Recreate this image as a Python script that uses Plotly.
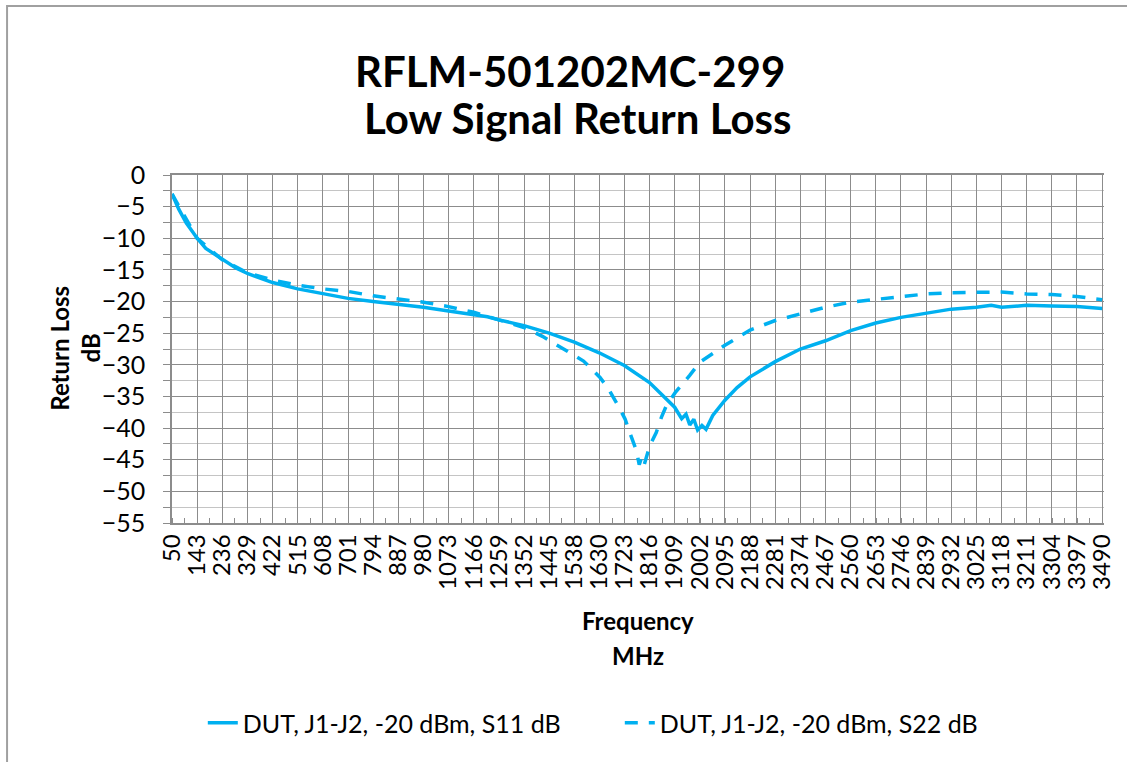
import plotly.graph_objects as go

# ---- data ----
x_labels = [50, 143, 236, 329, 422, 515, 608, 701, 794, 887, 980, 1073, 1166, 1259,
            1352, 1445, 1538, 1630, 1723, 1816, 1909, 2002, 2095, 2188, 2281, 2374,
            2467, 2560, 2653, 2746, 2839, 2932, 3025, 3118, 3211, 3304, 3397, 3490]

freq_s11 = [50, 75, 103, 143, 175, 200, 240, 286, 331, 422, 515, 608, 701, 794, 887,
            980, 1073, 1166, 1217, 1259, 1352, 1445, 1538, 1630, 1723, 1816, 1870,
            1909, 1935, 1951, 1965, 1980, 1994, 2010, 2025, 2050, 2095, 2140, 2188,
            2281, 2374, 2467, 2560, 2653, 2746, 2839, 2932, 3025, 3080, 3118, 3211,
            3304, 3397, 3490]
s11_db = [-3.0, -5.4, -7.6, -10.0, -11.6, -12.3, -13.5, -14.7, -15.6, -17.0, -18.0,
          -18.8, -19.5, -20.0, -20.4, -20.9, -21.5, -22.0, -22.4, -22.9, -23.8, -25.0,
          -26.4, -28.1, -30.1, -32.8, -35.0, -36.7, -38.5, -37.8, -39.5, -38.6, -40.3,
          -39.6, -40.2, -38.0, -35.6, -33.6, -31.9, -29.5, -27.5, -26.2, -24.6, -23.4,
          -22.5, -21.8, -21.2, -20.9, -20.6, -20.9, -20.6, -20.7, -20.8, -21.1]

freq_s22 = [50, 143, 236, 331, 422, 515, 608, 701, 794, 887, 980, 1073, 1166, 1259,
            1352, 1420, 1480, 1539, 1572, 1633, 1664, 1707, 1726, 1743, 1768, 1778,
            1786, 1795, 1805, 1817, 1841, 1860, 1878, 1911, 1964, 2002, 2095, 2188,
            2281, 2374, 2467, 2560, 2653, 2746, 2839, 2932, 3025, 3118, 3211, 3304,
            3397, 3490]
s22_db = [-3.0, -10.0, -13.4, -15.5, -16.6, -17.4, -18.0, -18.4, -19.1, -19.6, -20.1,
          -20.8, -21.7, -22.9, -24.1, -25.5, -27.0, -28.6, -29.4, -32.0, -33.8, -37.0,
          -38.6, -40.7, -43.6, -45.8, -44.8, -46.0, -44.6, -42.8, -40.7, -38.3, -36.5,
          -34.4, -31.7, -29.6, -26.9, -24.5, -23.0, -21.9, -20.9, -20.1, -19.7, -19.2,
          -18.8, -18.6, -18.5, -18.5, -18.8, -18.9, -19.2, -19.7]

series_names = ["DUT, J1-J2, -20 dBm, S11 dB", "DUT, J1-J2, -20 dBm, S22 dB"]
title_lines = ["RFLM-501202MC-299", "Low Signal Return Loss"]

# ---- layout geometry (pixels) ----
W, H = 1127, 762
L, R, T, B = 172, 17, 175, 239
PW, PH = W - L - R, H - T - B

def px(x):
    return (x - L) / PW

def py(y):
    return (H - B - y) / PH

FONT = "Lato"
BLUE = "#00B0F0"
GRID = "#8C8C8C"
MINOR = "#C4C4C4"

fig = go.Figure()
fig.add_trace(go.Scatter(x=freq_s11, y=s11_db, mode="lines", name=series_names[0],
                         line=dict(color=BLUE, width=3.5)))
fig.add_trace(go.Scatter(x=freq_s22, y=s22_db, mode="lines", name=series_names[1],
                         line=dict(color=BLUE, width=3.5, dash="13px,11px")))

fig.update_layout(
    width=W, height=H,
    margin=dict(l=L, r=R, t=T, b=B, pad=0),
    paper_bgcolor="white", plot_bgcolor="white",
    font=dict(family=FONT, color="black"),
    showlegend=True,
    legend=dict(orientation="h", x=px(203), xanchor="left", y=py(723), yanchor="middle",
                font=dict(size=25, family=FONT), entrywidth=372, entrywidthmode="pixels",
                bgcolor="rgba(0,0,0,0)"),
    xaxis=dict(range=[50, 3497], tickmode="array", tickvals=x_labels,
               ticktext=[str(v) for v in x_labels], tickangle=-90,
               tickfont=dict(size=24, family=FONT), showgrid=True, gridcolor=GRID,
               gridwidth=1, zeroline=False, showline=True, linecolor=GRID, linewidth=1.5,
               mirror=True, ticks="",
               minor=dict(tick0=50, dtick=46.5, ticks="inside", ticklen=5,
                          tickcolor=GRID, showgrid=False)),
    yaxis=dict(range=[-55, 0], dtick=5, tick0=0, tickfont=dict(size=25, family=FONT),
               showgrid=True, gridcolor=GRID, gridwidth=1, zeroline=False,
               showline=True, linecolor=GRID, linewidth=1.5, ticks="outside",
               ticklen=7, tickcolor=GRID, ticklabelstandoff=13,
               minor=dict(dtick=2.5, showgrid=True, gridcolor=MINOR, ticks="outside",
                          ticklen=7, tickcolor=GRID)),
)

ann = [
    dict(text="<b>%s</b>" % title_lines[0], x=px(573), y=py(71), size=42),
    dict(text="<b>%s</b>" % title_lines[1], x=px(580), y=py(118), size=42),
    dict(text="<b>Frequency</b>", x=px(641), y=py(620), size=24),
    dict(text="<b>MHz</b>", x=px(641), y=py(655), size=24),
    dict(text="<b>Return Loss</b>", x=px(58), y=py(348), size=24, angle=-90),
    dict(text="<b>dB</b>", x=px(89), y=py(348), size=24, angle=-90),
]
for a in ann:
    fig.add_annotation(text=a["text"], x=a["x"], y=a["y"], xref="paper", yref="paper",
                       xanchor="center", yanchor="middle", showarrow=False,
                       textangle=a.get("angle", 0),
                       font=dict(size=a["size"], family=FONT, color="black"))

# chart-area border
fig.add_shape(type="rect", xref="paper", yref="paper",
              x0=px(6), x1=px(1140), y0=py(780), y1=py(6),
              line=dict(color="#A0A0A0", width=2), fillcolor="rgba(0,0,0,0)", layer="below")

fig.write_html("out.html", config={"displayModeBar": False},
               post_script="document.body.style.margin='0';document.body.style.overflow='hidden';")
